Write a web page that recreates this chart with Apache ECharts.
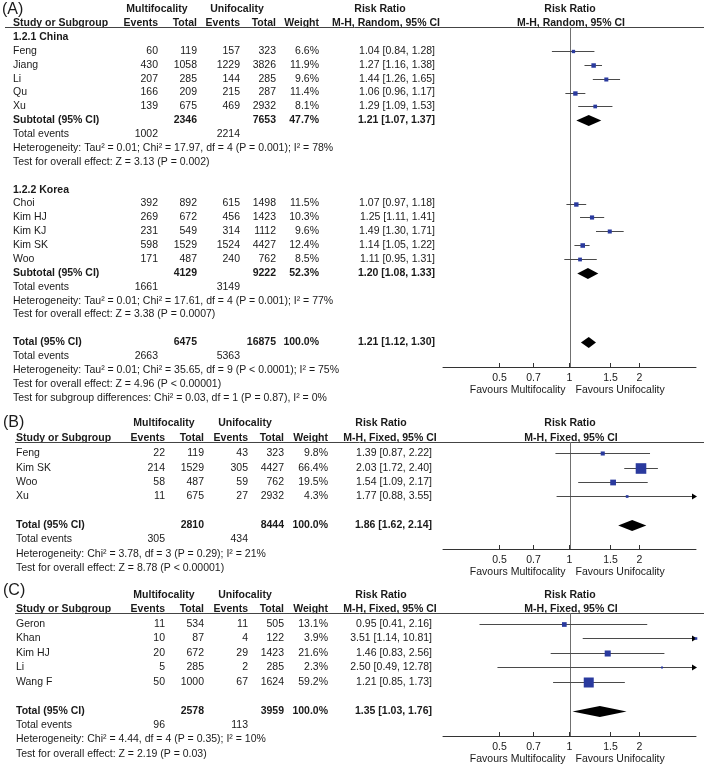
<!DOCTYPE html>
<html><head><meta charset="utf-8">
<script src="https://cdn.jsdelivr.net/npm/echarts@6/dist/echarts.min.js"></script>
<style>html,body{margin:0;padding:0;background:#fff}#c{width:709px;height:768px}</style>
</head><body><div id="c"></div>
<script>
// ================= DATA =================
// Panel A (M-H, Random) — subgroup 1.2.1 China
const aChinaStudy = ['Feng', 'Jiang', 'Li', 'Qu', 'Xu'];
const aChinaMultiEvents = [60, 430, 207, 166, 139];
const aChinaMultiTotal = [119, 1058, 285, 209, 675];
const aChinaUniEvents = [157, 1229, 144, 215, 469];
const aChinaUniTotal = [323, 3826, 285, 287, 2932];
const aChinaWeight = [6.6, 11.9, 9.6, 11.4, 8.1];
const aChinaRR = [1.04, 1.27, 1.44, 1.06, 1.29];
const aChinaLow = [0.84, 1.16, 1.26, 0.96, 1.09];
const aChinaHigh = [1.28, 1.38, 1.65, 1.17, 1.53];
const aChinaSummary = [2346, 7653, 47.7, 1.21, 1.07, 1.37]; // multi total, uni total, weight, RR, low, high
const aChinaEvents = [1002, 2214];
const aChinaNotes = ['Heterogeneity: Tau² = 0.01; Chi² = 17.97, df = 4 (P = 0.001); I² = 78%', 'Test for overall effect: Z = 3.13 (P = 0.002)'];
// Panel A — subgroup 1.2.2 Korea
const aKoreaStudy = ['Choi', 'Kim HJ', 'Kim KJ', 'Kim SK', 'Woo'];
const aKoreaMultiEvents = [392, 269, 231, 598, 171];
const aKoreaMultiTotal = [892, 672, 549, 1529, 487];
const aKoreaUniEvents = [615, 456, 314, 1524, 240];
const aKoreaUniTotal = [1498, 1423, 1112, 4427, 762];
const aKoreaWeight = [11.5, 10.3, 9.6, 12.4, 8.5];
const aKoreaRR = [1.07, 1.25, 1.49, 1.14, 1.11];
const aKoreaLow = [0.97, 1.11, 1.30, 1.05, 0.95];
const aKoreaHigh = [1.18, 1.41, 1.71, 1.22, 1.31];
const aKoreaSummary = [4129, 9222, 52.3, 1.20, 1.08, 1.33];
const aKoreaEvents = [1661, 3149];
const aKoreaNotes = ['Heterogeneity: Tau² = 0.01; Chi² = 17.61, df = 4 (P = 0.001); I² = 77%', 'Test for overall effect: Z = 3.38 (P = 0.0007)'];
const aGroupNames = ['1.2.1 China', '1.2.2 Korea'];
// Panel A — overall
const aTotalSummary = [6475, 16875, 100.0, 1.21, 1.12, 1.30];
const aTotalEvents = [2663, 5363];
const aTotalNotes = ['Heterogeneity: Tau² = 0.01; Chi² = 35.65, df = 9 (P < 0.0001); I² = 75%', 'Test for overall effect: Z = 4.96 (P < 0.00001)', 'Test for subgroup differences: Chi² = 0.03, df = 1 (P = 0.87), I² = 0%'];

// Panel B (M-H, Fixed)
const bStudy = ['Feng', 'Kim SK', 'Woo', 'Xu'];
const bMultiEvents = [22, 214, 58, 11];
const bMultiTotal = [119, 1529, 487, 675];
const bUniEvents = [43, 305, 59, 27];
const bUniTotal = [323, 4427, 762, 2932];
const bWeight = [9.8, 66.4, 19.5, 4.3];
const bRR = [1.39, 2.03, 1.54, 1.77];
const bLow = [0.87, 1.72, 1.09, 0.88];
const bHigh = [2.22, 2.40, 2.17, 3.55];
const bSummary = [2810, 8444, 100.0, 1.86, 1.62, 2.14];
const bEvents = [305, 434];
const bNotes = ['Heterogeneity: Chi² = 3.78, df = 3 (P = 0.29); I² = 21%', 'Test for overall effect: Z = 8.78 (P < 0.00001)'];

// Panel C (M-H, Fixed)
const cStudy = ['Geron', 'Khan', 'Kim HJ', 'Li', 'Wang F'];
const cMultiEvents = [11, 10, 20, 5, 50];
const cMultiTotal = [534, 87, 672, 285, 1000];
const cUniEvents = [11, 4, 29, 2, 67];
const cUniTotal = [505, 122, 1423, 285, 1624];
const cWeight = [13.1, 3.9, 21.6, 2.3, 59.2];
const cRR = [0.95, 3.51, 1.46, 2.50, 1.21];
const cLow = [0.41, 1.14, 0.83, 0.49, 0.85];
const cHigh = [2.16, 10.81, 2.56, 12.78, 1.73];
const cSummary = [2578, 3959, 100.0, 1.35, 1.03, 1.76];
const cEvents = [96, 113];
const cNotes = ['Heterogeneity: Chi² = 4.44, df = 4 (P = 0.35); I² = 10%', 'Test for overall effect: Z = 2.19 (P = 0.03)'];

// Labels
const panelLabels = ['(A)', '(B)', '(C)'];
const methodLabels = ['M-H, Random, 95% CI', 'M-H, Fixed, 95% CI', 'M-H, Fixed, 95% CI'];
const headerTop = ['Multifocality', 'Unifocality', 'Risk Ratio', 'Risk Ratio'];
const headerSub = ['Study or Subgroup', 'Events', 'Total', 'Events', 'Total', 'Weight'];
const summaryLabels = ['Subtotal (95% CI)', 'Total (95% CI)', 'Total events'];
const favourLabels = ['Favours Multifocality', 'Favours Unifocality'];
const tickValues = [0.5, 0.7, 1, 1.5, 2];
const XMIN = 1 / 3.5, XMAX = 3.5;

// ================= STYLE / LAYOUT =================
const FONT = '"Liberation Sans", Arial, Helvetica, sans-serif';
const FS = 10.5;
const TXT = '#1a1a1a';
const SQ = '#2a3a9e';
const CI = '#4a4a4a';
const fnt = (b, s) => (b ? 'bold ' : '') + (s || FS) + 'px ' + FONT;

const LAYOUT = [
  { lblY: 9.5, h1: 9, h2: 23, line: 27, y0: 37, rowH: 13.88, axis: 367, last: 26, lineX0: 5,
    c: [13, 158, 197, 240, 276, 319, 435], multiC: 157, uniC: 237, rrC: 380, mhC: 386 },
  { lblY: 423, h1: 423, h2: 438, line: 442, y0: 453.3, rowH: 14.35, axis: 549, last: 8, lineX0: 15,
    c: [16, 165, 204, 248, 284, 328, 432], multiC: 164, uniC: 245, rrC: 381, mhC: 390 },
  { lblY: 591, h1: 595, h2: 609, line: 613, y0: 624, rowH: 14.45, axis: 736, last: 9, lineX0: 15,
    c: [16, 165, 204, 248, 284, 328, 432], multiC: 164, uniC: 245, rrC: 381, mhC: 390 }
];
const PLOT_LEFT = 443, PLOT_RIGHT = 13, PLOT_HEAD_C = 570, PLOT_MH_C = 571;

// ================= BUILD ROWS =================
function addStudies(rows, forest, r, names, me, mt, ue, ut, w, rr, lo, hi) {
  names.forEach((n, i) => {
    rows.push({ row: r, kind: 'study', name: n, me: me[i], mt: mt[i], ue: ue[i], ut: ut[i], w: w[i], rr: rr[i], lo: lo[i], hi: hi[i] });
    forest.push([rr[i], r, lo[i], hi[i], w[i], 0]);
    r++;
  });
  return r;
}
function addSummary(rows, forest, r, label, s, ev, notes) {
  rows.push({ row: r, kind: 'sum', name: label, mt: s[0], ut: s[1], w: s[2], rr: s[3], lo: s[4], hi: s[5] });
  forest.push([s[3], r, s[4], s[5], s[2], 1]);
  r++;
  rows.push({ row: r, kind: 'events', name: summaryLabels[2], me: ev[0], ue: ev[1] }); r++;
  notes.forEach(t => { rows.push({ row: r, kind: 'note', text: t }); r++; });
  return r;
}

const panelRows = [[], [], []], panelForest = [[], [], []];
(function () {
  let rows = panelRows[0], f = panelForest[0], r = 0;
  rows.push({ row: r++, kind: 'group', name: aGroupNames[0] });
  r = addStudies(rows, f, r, aChinaStudy, aChinaMultiEvents, aChinaMultiTotal, aChinaUniEvents, aChinaUniTotal, aChinaWeight, aChinaRR, aChinaLow, aChinaHigh);
  r = addSummary(rows, f, r, summaryLabels[0], aChinaSummary, aChinaEvents, aChinaNotes);
  r++;
  rows.push({ row: r++, kind: 'group', name: aGroupNames[1] });
  r = addStudies(rows, f, r, aKoreaStudy, aKoreaMultiEvents, aKoreaMultiTotal, aKoreaUniEvents, aKoreaUniTotal, aKoreaWeight, aKoreaRR, aKoreaLow, aKoreaHigh);
  r = addSummary(rows, f, r, summaryLabels[0], aKoreaSummary, aKoreaEvents, aKoreaNotes);
  r++;
  addSummary(rows, f, r, summaryLabels[1], aTotalSummary, aTotalEvents, aTotalNotes);

  rows = panelRows[1]; f = panelForest[1]; r = 0;
  r = addStudies(rows, f, r, bStudy, bMultiEvents, bMultiTotal, bUniEvents, bUniTotal, bWeight, bRR, bLow, bHigh);
  r++;
  addSummary(rows, f, r, summaryLabels[1], bSummary, bEvents, bNotes);

  rows = panelRows[2]; f = panelForest[2]; r = 0;
  r = addStudies(rows, f, r, cStudy, cMultiEvents, cMultiTotal, cUniEvents, cUniTotal, cWeight, cRR, cLow, cHigh);
  r++;
  addSummary(rows, f, r, summaryLabels[1], cSummary, cEvents, cNotes);
})();

const rrText = (rr, lo, hi) => rr.toFixed(2) + ' [' + lo.toFixed(2) + ', ' + hi.toFixed(2) + ']';

// ================= RENDERERS =================
function makeTableRender(rows, L) {
  return function (params, api) {
    const d = rows[params.dataIndex];
    const y = api.coord([0, d.row])[1];
    const kids = [];
    const t = (x, txt, align, bold) => kids.push({ type: 'text', x: x, y: y,
      style: { text: String(txt), align: align, verticalAlign: 'middle', font: fnt(bold), fill: TXT } });
    const c = L.c;
    if (d.kind === 'group') t(c[0], d.name, 'left', true);
    else if (d.kind === 'study') {
      t(c[0], d.name, 'left'); t(c[1], d.me, 'right'); t(c[2], d.mt, 'right');
      t(c[3], d.ue, 'right'); t(c[4], d.ut, 'right'); t(c[5], d.w.toFixed(1) + '%', 'right');
      t(c[6], rrText(d.rr, d.lo, d.hi), 'right');
    } else if (d.kind === 'sum') {
      t(c[0], d.name, 'left', true); t(c[2], d.mt, 'right', true); t(c[4], d.ut, 'right', true);
      t(c[5], d.w.toFixed(1) + '%', 'right', true); t(c[6], rrText(d.rr, d.lo, d.hi), 'right', true);
    } else if (d.kind === 'events') {
      t(c[0], d.name, 'left'); t(c[1], d.me, 'right'); t(c[3], d.ue, 'right');
    } else if (d.kind === 'note') t(c[0], d.text, 'left');
    return { type: 'group', children: kids };
  };
}

function refRender(params, api) {
  const cs = params.coordSys;
  const x = Math.round(api.coord([1, 0])[0]) + 0.5;
  const yb = cs.y + cs.height;
  return { type: 'group', children: [
    { type: 'line', shape: { x1: x, y1: cs.y, x2: x, y2: yb }, style: { stroke: '#707070', lineWidth: 1 } },
    { type: 'text', x: x - 5, y: yb + 23, style: { text: favourLabels[0], align: 'right', verticalAlign: 'middle', font: fnt(false), fill: TXT } },
    { type: 'text', x: x + 5, y: yb + 23, style: { text: favourLabels[1], align: 'left', verticalAlign: 'middle', font: fnt(false), fill: TXT } }
  ] };
}

function forestRender(params, api) {
  const rr = api.value(0), row = api.value(1), lo = api.value(2), hi = api.value(3), w = api.value(4), kind = api.value(5);
  const xl = api.coord([Math.max(lo, XMIN), row])[0];
  const xh = api.coord([Math.min(hi, XMAX), row])[0];
  const pc = api.coord([Math.min(Math.max(rr, XMIN), XMAX), row]);
  const y = Math.round(pc[1]) + 0.5;
  if (kind === 1) {
    const h = 5.5;
    return { type: 'polygon', shape: { points: [[xl, y], [pc[0], y - h], [xh, y], [pc[0], y + h]] }, style: { fill: '#000' } };
  }
  const kids = [{ type: 'line', shape: { x1: xl, y1: y, x2: xh, y2: y }, style: { stroke: CI, lineWidth: 1 } }];
  if (hi > XMAX) kids.push({ type: 'polygon', shape: { points: [[xh + 1, y], [xh - 4, y - 3], [xh - 4, y + 3]] }, style: { fill: '#000' } });
  const s = Math.max(2, 1.3 * Math.sqrt(w));
  kids.push({ type: 'rect', shape: { x: pc[0] - s / 2, y: y - s / 2, width: s, height: s }, style: { fill: SQ } });
  return { type: 'group', children: kids };
}

// ================= OPTION =================
const grid = [], xAxis = [], yAxis = [], series = [], graphic = [];
LAYOUT.forEach((L, p) => {
  const tableBottomRow = L.last + 0.8;
  const tableTop = L.line, tableBottomY = L.y0 + L.rowH * tableBottomRow;
  // table grid
  grid.push({ left: 0, width: 709, top: tableTop, height: tableBottomY - tableTop });
  const gi = grid.length - 1;
  xAxis.push({ type: 'value', gridIndex: gi, min: 0, max: 709, show: false });
  yAxis.push({ type: 'value', gridIndex: gi, inverse: true, min: (tableTop - L.y0) / L.rowH, max: tableBottomRow, show: false });
  series.push({ type: 'custom', xAxisIndex: gi, yAxisIndex: gi, clip: false, silent: true,
    data: panelRows[p].map(d => [0, d.row]), renderItem: makeTableRender(panelRows[p], L) });
  // plot grid
  grid.push({ left: PLOT_LEFT, right: PLOT_RIGHT, top: L.line, height: L.axis - L.line });
  const pi = grid.length - 1;
  xAxis.push({ type: 'log', logBase: 10, gridIndex: pi, min: XMIN, max: XMAX, position: 'bottom',
    axisLine: { show: true, onZero: false, lineStyle: { color: '#333', width: 1 } },
    axisTick: { show: true, inside: true, length: 4, customValues: tickValues, lineStyle: { color: '#333' } },
    axisLabel: { customValues: tickValues, formatter: v => String(v), fontSize: FS, fontFamily: FONT, color: TXT, margin: 6 },
    splitLine: { show: false }, minorTick: { show: false } });
  yAxis.push({ type: 'value', gridIndex: pi, inverse: true, min: (L.line - L.y0) / L.rowH, max: (L.axis - L.y0) / L.rowH, show: false });
  series.push({ type: 'custom', xAxisIndex: pi, yAxisIndex: pi, clip: false, silent: true, data: [[1, 0]], renderItem: refRender });
  series.push({ type: 'custom', xAxisIndex: pi, yAxisIndex: pi, clip: false, silent: true, data: panelForest[p], renderItem: forestRender });

  // headers
  const ht = (x, y, txt, align, bold, size) => graphic.push({ type: 'text', x: x, y: y,
    style: { text: txt, align: align, verticalAlign: 'middle', font: fnt(bold, size), fill: TXT } });
  ht(L.lineX0 === 5 ? 2 : 3, L.lblY, panelLabels[p], 'left', false, 16);
  ht(L.multiC, L.h1, headerTop[0], 'center', true);
  ht(L.uniC, L.h1, headerTop[1], 'center', true);
  ht(L.rrC, L.h1, headerTop[2], 'center', true);
  ht(PLOT_HEAD_C, L.h1, headerTop[3], 'center', true);
  ht(L.c[0], L.h2, headerSub[0], 'left', true);
  for (let k = 1; k <= 5; k++) ht(L.c[k], L.h2, headerSub[k], 'right', true);
  ht(L.mhC, L.h2, methodLabels[p], 'center', true);
  ht(PLOT_MH_C, L.h2, methodLabels[p], 'center', true);
  graphic.push({ type: 'line', shape: { x1: L.lineX0, y1: L.line + 0.5, x2: 704, y2: L.line + 0.5 }, style: { stroke: '#444', lineWidth: 1 } });
});

const chart = echarts.init(document.getElementById('c'), null, { renderer: 'canvas' });
chart.setOption({ animation: false, backgroundColor: '#fff', grid, xAxis, yAxis, series, graphic });
</script>
</body></html>
